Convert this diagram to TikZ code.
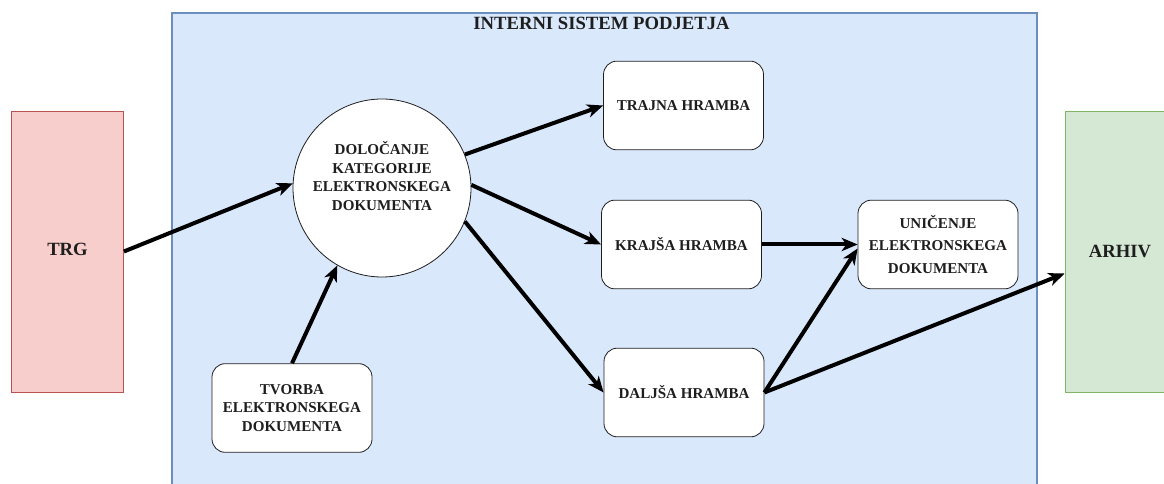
\documentclass[tikz,border=0pt]{standalone}
\usepackage{fontspec}
\setmainfont{Liberation Serif}
\usetikzlibrary{arrows.meta,positioning,calc}
\definecolor{SysBlue}{RGB}{218,232,252}
\definecolor{SysEdge}{RGB}{108,142,191}
\definecolor{TrgRed}{RGB}{248,206,204}
\definecolor{TrgEdge}{RGB}{184,84,80}
\definecolor{ArhGreen}{RGB}{213,232,212}
\definecolor{ArhEdge}{RGB}{130,179,102}
\definecolor{Ink}{RGB}{30,30,30}
\tikzset{
  lbl/.style={font=\fontsize{11.3}{14}\selectfont\bfseries, text=Ink, align=center},
  hbox/.style={lbl, rectangle, rounded corners=10pt, draw=Ink, line width=0.6pt, fill=white,
    minimum width=120pt, minimum height=66.5pt, inner sep=2pt},
  extbox/.style={lbl, font=\fontsize{14}{16}\selectfont\bfseries, rectangle, line width=0.6pt,
    minimum width=84pt, minimum height=210.75pt, inner sep=0pt},
  catcirc/.style={lbl, circle, draw=Ink, line width=0.6pt, fill=white, minimum size=133.5pt, inner sep=0pt},
  flowarr/.style={-{Stealth[length=12pt,width=10pt,inset=3.5pt]}, draw=black, line width=3pt},
}
\begin{document}
\begin{tikzpicture}[x=0.75pt,y=-0.75pt]
\useasboundingbox (0,0) rectangle (1164,484);
\clip (0,0) rectangle (1164,484);

% ================= internal system area =================
\fill[SysBlue, draw=SysEdge, line width=0.8pt] (172,13) rectangle (1037,500);
\node[lbl, font=\fontsize{14}{16}\selectfont\bfseries] (title) at (601.5,23) {INTERNI SISTEM PODJETJA};

% ================= outer units =================
\node[extbox, fill=TrgRed, draw=TrgEdge] (trg) at (67.5,251.5) {\raisebox{4pt}{TRG}};
\node[extbox, fill=ArhGreen, draw=ArhEdge, minimum width=82.5pt] (arhiv) at (1120,251.5) {ARHIV};

% ================= steps =================
\node[catcirc, text depth=18pt] (dol) at (382,188) {DOLOČANJE\\KATEGORIJE\\ELEKTRONSKEGA\\DOKUMENTA};
\node[hbox] (tvorba) at (292,408) {TVORBA\\ELEKTRONSKEGA\\DOKUMENTA};
\node[hbox] (trajna) at (683.5,105.5) {TRAJNA HRAMBA};
\node[hbox] (krajsa) at (681.5,244.5) {KRAJŠA HRAMBA};
\node[hbox] (daljsa) at (684,392.5) {DALJŠA HRAMBA};
\node[hbox, font=\fontsize{11.3}{16.9}\selectfont\bfseries] (unic) at (938,244.5)
  {UNIČENJE\\ELEKTRONSKEGA\\DOKUMENTA};

% flow arrows
\draw[flowarr] (trg.east) -- (dol.177);
\draw[flowarr] (tvorba.north) -- (dol.240);
\draw[flowarr] (dol.22) -- (trajna.west);
\draw[flowarr] (dol.2) -- (krajsa.west);
\draw[flowarr] (dol.-22) -- (daljsa.west);
\draw[flowarr] (krajsa.east) -- (unic.west);
\draw[flowarr] (daljsa.east) -- ($(unic.west)+(0,4)$);
\draw[flowarr] (daljsa.east) -- ($(arhiv.west)+(0,22)$);

\end{tikzpicture}
\end{document}
